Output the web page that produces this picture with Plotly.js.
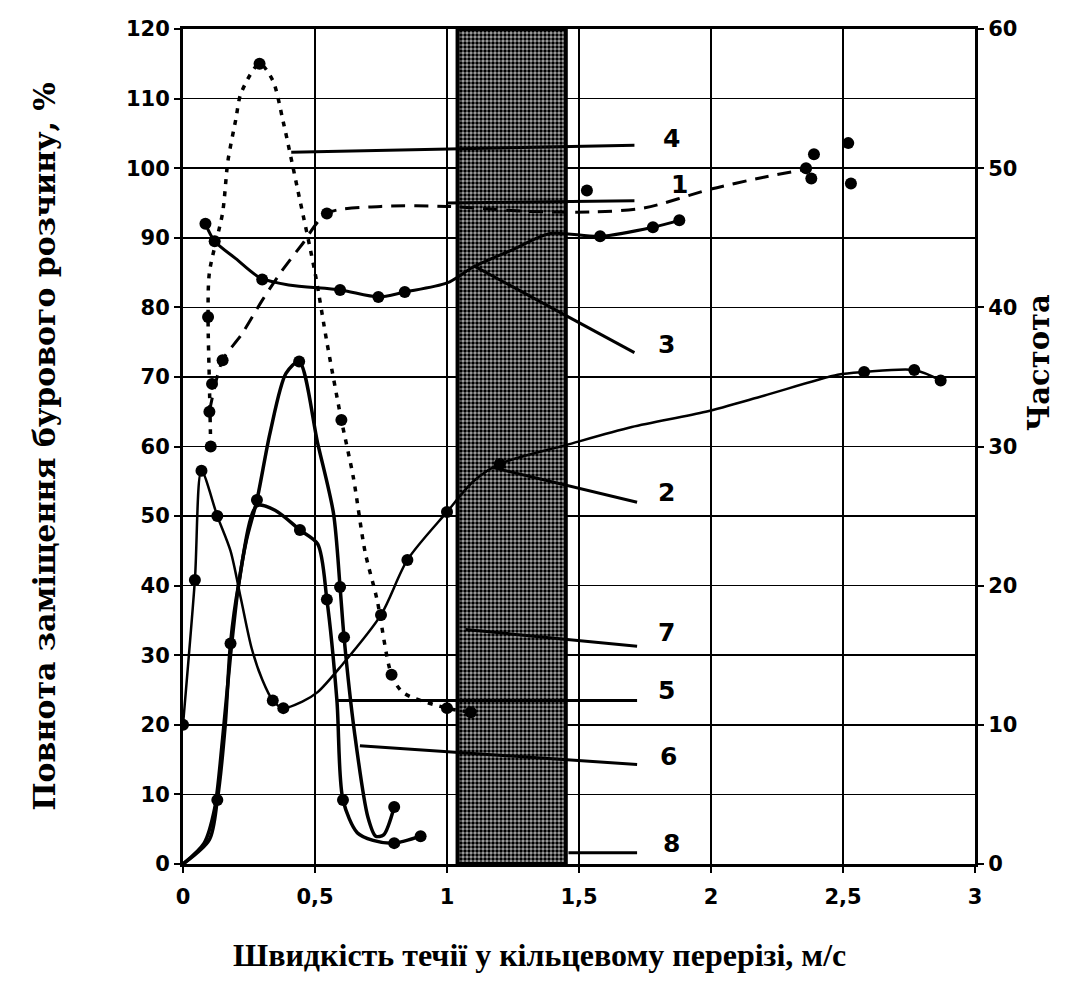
<!DOCTYPE html>
<html><head><meta charset="utf-8">
<script src="https://cdn.plot.ly/plotly-3.0.1.min.js"></script>
<style>html,body{margin:0;padding:0;background:#fff}#chart{width:1088px;height:990px}</style>
</head><body><div id="chart"></div>
<script>
// ---- axis ticks ----
const xTickVals = [0, 0.5, 1, 1.5, 2, 2.5, 3];
const xTickText = ["0", "0,5", "1", "1,5", "2", "2,5", "3"];

// ---- shaded velocity zone ----
const bandX0 = 1.04, bandX1 = 1.45, bandTop = 120;

// ---- curve 1 (повнота, dashed) ----
const c1X = [0.1, 0.15, 0.22, 0.3, 0.37, 0.45, 0.545, 0.75, 1.0, 1.3, 1.55, 1.75, 2.0, 2.2, 2.38];
const c1Y = [65, 72.4, 76, 81, 85, 89, 93.5, 94.5, 94.5, 93.8, 93.7, 94.3, 97, 98.7, 100];
const c1MX = [0.1, 0.11, 0.15, 0.545, 1.53, 2.36, 2.39, 2.38, 2.52, 2.53];
const c1MY = [65, 69, 72.4, 93.5, 96.8, 100, 102, 98.5, 103.6, 97.8];

// ---- curve 2 (повнота, solid) ----
const c2X = [0, 0.045, 0.07, 0.13, 0.18, 0.22, 0.26, 0.3, 0.34, 0.38, 0.45, 0.51, 0.6, 0.75, 0.85, 1.0, 1.1, 1.2, 1.45, 1.7, 1.98, 2.2, 2.48, 2.58, 2.77, 2.87];
const c2Y = [20, 40.8, 56.5, 50, 45, 38, 31, 26.5, 23.5, 22.4, 23.3, 24.7, 28.5, 35.8, 43.7, 50.6, 55, 57.5, 60.2, 62.8, 65, 67.3, 70.3, 70.7, 71, 69.5];
const c2MX = [0, 0.045, 0.07, 0.13, 0.34, 0.38, 0.75, 0.85, 1.0, 1.2, 2.58, 2.77, 2.87];
const c2MY = [20, 40.8, 56.5, 50, 23.5, 22.4, 35.8, 43.7, 50.6, 57.5, 70.7, 71, 69.5];

// ---- curve 3 (повнота, solid) ----
const c3X = [0.085, 0.12, 0.2, 0.29, 0.4, 0.595, 0.74, 0.84, 1.0, 1.1, 1.25, 1.39, 1.58, 1.78, 1.88];
const c3Y = [92, 89.5, 87, 84.3, 83.2, 82.5, 81.5, 82.2, 83.5, 85.8, 88.3, 90.6, 90.2, 91.5, 92.5];
const c3MX = [0.085, 0.12, 0.3, 0.595, 0.74, 0.84, 1.58, 1.78, 1.88];
const c3MY = [92, 89.5, 84, 82.5, 81.5, 82.2, 90.2, 91.5, 92.5];

// ---- curve 4 (частота, dotted) ----
const c4X = [0.105, 0.1, 0.095, 0.1, 0.15, 0.17, 0.2, 0.22, 0.29, 0.34, 0.38, 0.435, 0.5, 0.545, 0.6, 0.645, 0.69, 0.735, 0.79, 0.835, 1.0, 1.09];
const c4Y = [30, 34.5, 39.3, 42.5, 46.8, 50.5, 53.5, 55.4, 57.5, 56.3, 53.3, 48.4, 42.5, 37.5, 31.9, 27.8, 22.4, 19, 13.6, 12.3, 11.2, 10.9];
const c4MX = [0.105, 0.095, 0.29, 0.6, 0.79, 1.0, 1.09];
const c4MY = [30, 39.3, 57.5, 31.9, 13.6, 11.2, 10.9];

// ---- curve 5 (частота, solid) ----
const c5X = [0, 0.1, 0.13, 0.16, 0.18, 0.21, 0.28, 0.35, 0.443, 0.51, 0.545, 0.583, 0.606, 0.66, 0.72, 0.8, 0.9];
const c5Y = [0, 1.75, 4.6, 10, 15.85, 20, 25.75, 25.4, 24, 23, 19, 11.75, 4.6, 2.25, 1.7, 1.5, 2];
const c5MX = [0.13, 0.18, 0.443, 0.545, 0.606, 0.8, 0.9];
const c5MY = [4.6, 15.85, 24, 19, 4.6, 1.5, 2];

// ---- curve 6 (частота, solid) ----
const c6X = [0, 0.08, 0.12, 0.15, 0.18, 0.21, 0.24, 0.28, 0.33, 0.39, 0.44, 0.51, 0.57, 0.595, 0.61, 0.65, 0.7, 0.73, 0.76, 0.8];
const c6Y = [0, 1.5, 4, 9, 15, 20, 23.25, 26.15, 31, 35.25, 36.1, 30.25, 25.2, 19.9, 16.3, 9.4, 3.4, 2, 2.1, 4.1];
const c6MX = [0.28, 0.44, 0.595, 0.61, 0.8];
const c6MY = [26.15, 36.1, 19.9, 16.3, 4.1];

// ---- curve labels and leader lines (left-axis units) ----
const labelNames = ["4", "1", "3", "2", "7", "5", "6", "8"];
const labelX = [1.85, 1.88, 1.83, 1.83, 1.83, 1.83, 1.84, 1.85];
const labelY = [104.3, 97.6, 74.6, 53.4, 33.3, 25, 15.4, 3];
const leadX0 = [0.41, 1.0, 1.1, 1.17, 1.07, 0.58, 0.67, 1.46];
const leadY0 = [102.3, 95, 86, 57, 33.7, 23.5, 17, 1.6];
const leadX1 = [1.71, 1.71, 1.71, 1.72, 1.72, 1.72, 1.72, 1.72];
const leadY1 = [103.3, 95.3, 73.5, 52, 31.3, 23.5, 14.3, 1.6];

const BLK = '#000';
function lineTr(x, y, dash, w, axis) {
  return {x: x, y: y, mode: 'lines', yaxis: axis, hoverinfo: 'skip', showlegend: false,
    line: {color: BLK, width: w, dash: dash, shape: 'spline', smoothing: 0.8}};
}
function markTr(x, y, axis) {
  return {x: x, y: y, mode: 'markers', yaxis: axis, showlegend: false,
    marker: {color: BLK, size: 12, symbol: 'circle'}};
}

const traces = [
  {type: 'bar', x: [(bandX0 + bandX1) / 2], y: [bandTop], width: [bandX1 - bandX0], base: [0],
   showlegend: false, hoverinfo: 'skip',
   marker: {color: '#555', line: {color: BLK, width: 4},
            pattern: {shape: '.', fgcolor: '#000', bgcolor: '#a8a8a8', size: 4, solidity: 0.6}}},
  lineTr(c1X, c1Y, '14px,9px', 3, 'y'), markTr(c1MX, c1MY, 'y'),
  lineTr(c2X, c2Y, 'solid', 2.5, 'y'), markTr(c2MX, c2MY, 'y'),
  lineTr(c3X, c3Y, 'solid', 3, 'y'), markTr(c3MX, c3MY, 'y'),
  lineTr(c4X, c4Y, '5px,7px', 3.5, 'y2'), markTr(c4MX, c4MY, 'y2'),
  lineTr(c5X, c5Y, 'solid', 3.5, 'y2'), markTr(c5MX, c5MY, 'y2'),
  lineTr(c6X, c6Y, 'solid', 3.5, 'y2'), markTr(c6MX, c6MY, 'y2')
];

const shapes = labelNames.map((n, i) => ({
  type: 'line', xref: 'x', yref: 'y', x0: leadX0[i], y0: leadY0[i], x1: leadX1[i], y1: leadY1[i],
  line: {color: BLK, width: 3}
}));

const tickFont = {family: 'DejaVu Sans, Arial, sans-serif', size: 21, color: BLK, weight: 'bold'};
const xTitleFont = {family: 'Liberation Serif, Times New Roman, serif', size: 32, color: BLK, weight: 'bold'};
const yTitleFont = {family: 'DejaVu Serif, serif', size: 30, color: BLK, weight: 'bold'};
const rTitleFont = {family: 'DejaVu Serif, serif', size: 29, color: BLK, weight: 'bold'};

const annotations = labelNames.map((n, i) => ({
  x: labelX[i], y: labelY[i], xref: 'x', yref: 'y', text: n, showarrow: false,
  font: {family: 'DejaVu Sans, Arial, sans-serif', size: 25, color: BLK, weight: 'bold'}
}));
annotations.push({
  xref: 'paper', yref: 'paper', x: 1.105, y: 0.6, text: 'Частота', textangle: -90,
  showarrow: false, font: rTitleFont
});
annotations.push({
  xref: 'paper', yref: 'paper', x: 0.45, y: -0.109, yanchor: 'middle',
  text: 'Швидкість течії у кільцевому перерізі, м/с', showarrow: false, font: xTitleFont
});

const layout = {
  width: 1088, height: 990,
  margin: {l: 183, r: 113, t: 29, b: 126},
  paper_bgcolor: '#fff', plot_bgcolor: '#fff',
  barmode: 'overlay',
  xaxis: {range: [0, 3], tickvals: xTickVals, ticktext: xTickText, tickfont: tickFont,
    showgrid: true, gridcolor: BLK, gridwidth: 1.6, zeroline: false,
    showline: true, linecolor: BLK, linewidth: 3, mirror: true,
    ticks: 'outside', ticklen: 6, tickwidth: 2, tickcolor: BLK, ticklabelstandoff: 6},
  yaxis: {range: [0, 120], dtick: 10, tickfont: tickFont,
    showgrid: true, gridcolor: BLK, gridwidth: 1.6, zeroline: false,
    showline: true, linecolor: BLK, linewidth: 3, mirror: true,
    ticks: 'outside', ticklen: 6, tickwidth: 2, tickcolor: BLK,
    title: {text: 'Повнота заміщення бурового розчину, %', font: yTitleFont, standoff: 62}},
  yaxis2: {range: [0, 60], dtick: 10, overlaying: 'y', side: 'right', tickfont: tickFont,
    showgrid: false, zeroline: false, showline: true, linecolor: BLK, linewidth: 3,
    ticks: 'outside', ticklen: 6, tickwidth: 2, tickcolor: BLK},
  shapes: shapes,
  annotations: annotations
};

Plotly.newPlot('chart', traces, layout, {displayModeBar: false, staticPlot: true});
</script></body></html>
